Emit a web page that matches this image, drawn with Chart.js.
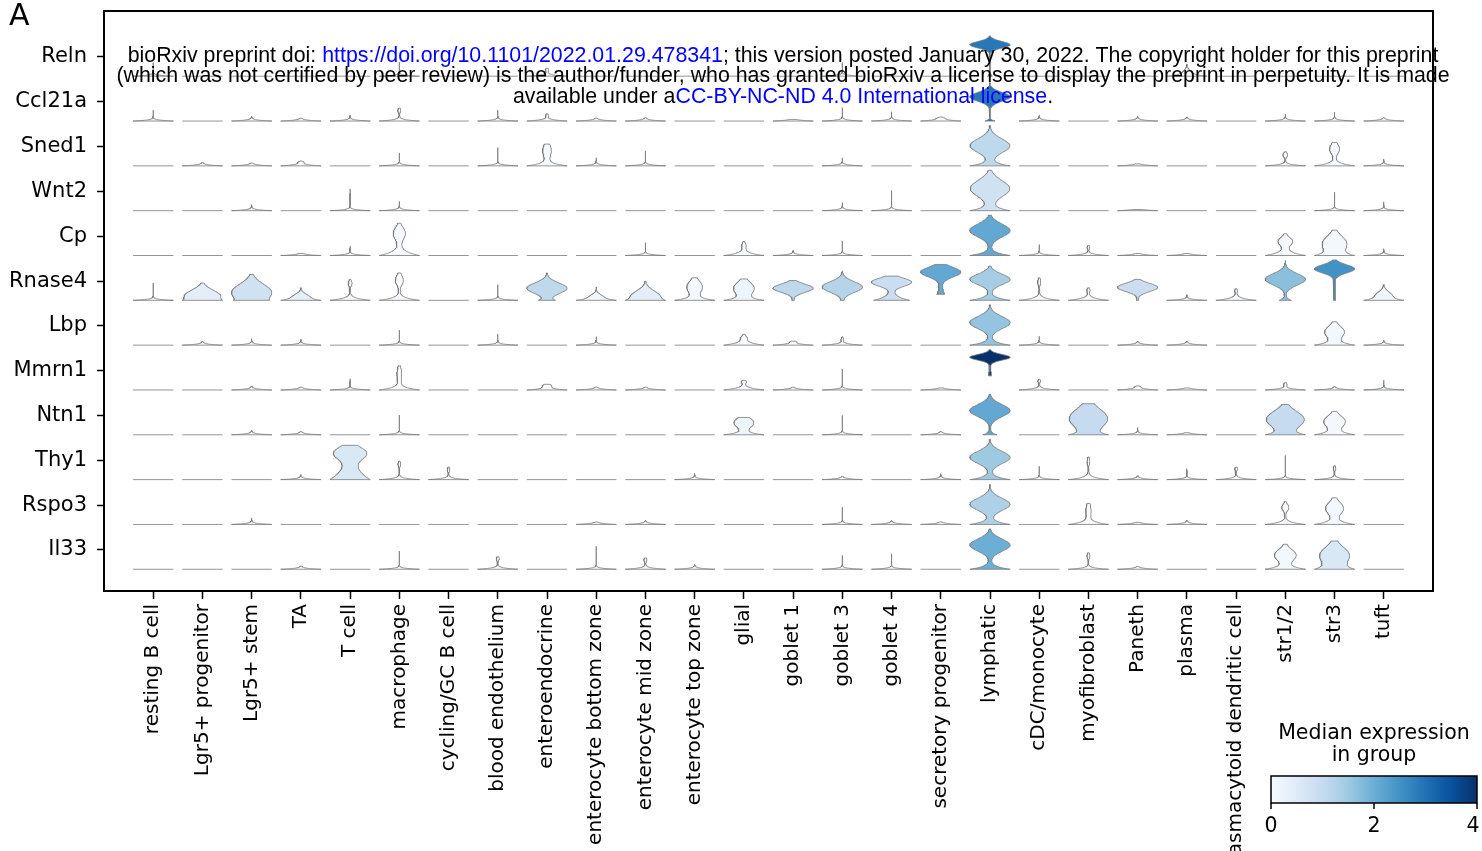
<!DOCTYPE html>
<html>
<head>
<meta charset="utf-8">
<script src="https://cdn.jsdelivr.net/npm/chart.js@4.4.0/dist/chart.umd.min.js"></script>
<style>
  html, body { margin: 0; padding: 0; background: #fff; overflow: hidden; }
  #wrap { width: 1482px; height: 851px; overflow: hidden; }
</style>
</head>
<body>
<div id="wrap"><canvas id="chart_elem" width="1482" height="880"></canvas></div>
<script>

const genes = ['Reln', 'Ccl21a', 'Sned1', 'Wnt2', 'Cp', 'Rnase4', 'Lbp', 'Mmrn1', 'Ntn1', 'Thy1', 'Rspo3', 'Il33'];

const cellTypes = ['resting B cell', 'Lgr5+ progenitor', 'Lgr5+ stem', 'TA', 'T cell', 'macrophage',
  'cycling/GC B cell', 'blood endothelium', 'enteroendocrine', 'enterocyte bottom zone',
  'enterocyte mid zone', 'enterocyte top zone', 'glial', 'goblet 1', 'goblet 3', 'goblet 4',
  'secretory progenitor', 'lymphatic', 'cDC/monocyte', 'myofibroblast', 'Paneth', 'plasma',
  'plasmacytoid dendritic cell', 'str1/2', 'str3', 'tuft'];

// one entry per cell type: 0 = no expression, a number = thin spike (max, scaled to row),
// or [max, median, bodyWidth, bodyCenter, bodySpread, zeroWidth, zeroSpread, min]
const Reln = [0.34, 0, 0, 0, 0, 0.35, 0, 0, [0.2, 0, 0.08, 0.16, 0.03], 0, 0, 0, 0, 0, 0.34, 0, 0,
  [1.0, 2.9, 1, 0.78, 0.08, 0.12, 0.05], 0, 0, 0, [0.3, 0, 0.1, 0.12, 0.06, 1, 0.05], 0, 0, 0, 0];
const Ccl21a = [0.27, 0, 0.12, 0.07, 0.15, [0.32, 0, 0.08, 0.26, 0.04], 0, 0.27, [0.18, 0, 0.06, 0.14, 0.03],
  0.07, 0.08, 0, 0, 0.04, 0.33, 0.23, [0.1, 0, 0.12, 0.07, 0.02], [0.95, 2.9, 1, 0.6, 0.11, 0.25, 0.03],
  0.15, 0, 0.12, 0.1, 0, 0.17, 0.22, 0.08];
const Sned1 = [0, 0.08, 0.07, [0.12, 0, 0.1, 0.09, 0.02], 0, 0.32, 0, 0.45, [0.54, 0.05, 0.22, 0.38, 0.15, 1, 0.06],
  0.2, 0.37, 0, 0, 0, 0.2, 0, 0, [1.0, 1.1, 1, 0.5, 0.17, 1, 0.07], 0, 0, 0.05, 0, 0,
  [0.35, 0, 0.12, 0.27, 0.05], [0.58, 0.05, 0.25, 0.42, 0.12, 1, 0.06], 0.17];
const Wnt2 = [0, 0, 0.15, 0, 0.54, 0.23, 0, 0, 0, 0, 0, 0, 0, 0, 0.2, 0.5, 0,
  [1.0, 0.8, 1, 0.55, 0.2, 1, 0.08], 0, 0, 0.03, 0, 0, 0, 0.46, 0.22];
const Cp = [0, 0, 0, 0.05, 0.23, [0.8, 0.05, 0.3, 0.55, 0.15, 1, 0.1], 0, 0, 0, 0, 0.32, 0,
  [0.35, 0, 0.1, 0.25, 0.06, 1, 0.06], 0.12, 0.36, 0, 0, [1.0, 2.1, 1, 0.62, 0.16, 1, 0.07], 0.27,
  [0.25, 0, 0.07, 0.2, 0.03], 0.05, 0.05, 0, [0.54, 0.05, 0.35, 0.35, 0.1, 1, 0.08],
  [0.63, 0.1, 0.7, 0.3, 0.18, 1, 0.08], 0.17];
const Rnase4 = [0.43, [0.43, 0.4, 0.8, 0.12, 0.14, 0.4, 0.06], [0.64, 0.8, 1, 0.2, 0.2, 0.3, 0.06],
  [0.31, 0.35, 0.5, 0.08, 0.08, 1, 0.04], [0.52, 0, 0.1, 0.42, 0.06, 1, 0.05], [0.68, 0, 0.2, 0.5, 0.12, 1, 0.06],
  0, 0.39, [0.68, 1.1, 1, 0.3, 0.13, 0.35, 0.05], [0.33, 0.1, 0.35, 0.08, 0.07, 1, 0.04],
  [0.48, 0.4, 0.75, 0.1, 0.14, 0.5, 0.05], [0.56, 0.1, 0.4, 0.33, 0.15, 1, 0.06],
  [0.53, 0.2, 0.55, 0.3, 0.15, 1, 0.06], [0.49, 1.1, 1, 0.3, 0.1, 0.05, 0.04],
  [0.73, 1.2, 1, 0.33, 0.13, 0.05, 0.04], [0.6, 0.9, 1, 0.45, 0.1, 0.9, 0.1],
  [0.89, 2.1, 1, 0.7, 0.12, 0.2, 0.2, 0.15], [0.85, 1.4, 1, 0.52, 0.13, 1, 0.07],
  [0.56, 0, 0.08, 0.45, 0.07, 1, 0.05], [0.31, 0, 0.08, 0.25, 0.04, 1, 0.05],
  [0.52, 0.9, 1, 0.32, 0.1, 0.05, 0.04], 0.14, [0.29, 0, 0.07, 0.24, 0.03, 1, 0.05],
  [0.99, 1.7, 1, 0.52, 0.14, 0.3, 0.05], [1.0, 2.5, 1, 0.78, 0.1, 0.06, 0.5],
  [0.39, 0.15, 0.45, 0.12, 0.1, 1, 0.05]];
const Lbp = [0, 0.1, 0.16, 0.14, 0, 0.37, 0, 0.27, 0, 0.21, 0, 0, [0.27, 0, 0.12, 0.18, 0.05, 1, 0.06],
  [0.1, 0, 0.1, 0.08, 0.02], [0.21, 0, 0.06, 0.15, 0.03], 0, 0, [1.0, 1.6, 1, 0.56, 0.15, 1, 0.07],
  0.22, 0, 0.1, 0.1, 0, 0, [0.58, 0.1, 0.5, 0.33, 0.14, 1, 0.07], 0.12];
const Mmrn1 = [0, 0, 0.1, 0.07, 0.28, [0.6, 0, 0.12, 0.4, 0.15, 1, 0.06], 0, 0, [0.14, 0, 0.2, 0.1, 0.04, 1, 0.03],
  0.07, 0.07, 0, [0.24, 0, 0.12, 0.2, 0.03, 1, 0.05], 0.07, 0.52, 0, 0.05,
  [1.0, 4.0, 1, 0.81, 0.07, 0.08, 0.2, 0.35], [0.27, 0, 0.07, 0.22, 0.03], 0, [0.1, 0, 0.08, 0.08, 0.02],
  0.05, 0, [0.18, 0, 0.08, 0.14, 0.03], 0.08, 0.24];
const Ntn1 = [0, 0, 0.12, 0.08, 0, 0.49, 0, 0, 0, 0, 0, 0, [0.43, 0.2, 0.5, 0.3, 0.12, 1, 0.05], 0, 0.48, 0, 0.08,
  [1.0, 2.1, 1, 0.6, 0.15, 0.35, 0.05], 0, [0.77, 1.0, 1, 0.4, 0.24, 0.8, 0.06], 0.18, 0.05, 0,
  [0.75, 1.0, 1, 0.38, 0.2, 0.9, 0.07], [0.58, 0.1, 0.55, 0.33, 0.14, 1, 0.07], 0];
const Thy1 = [0, 0, 0, 0.12, [0.85, 0.6, 0.72, 0.66, 0.15, 1, 0.3], [0.46, 0, 0.07, 0.38, 0.05],
  [0.31, 0, 0.07, 0.25, 0.04], 0, 0, 0, 0, 0.16, 0, 0, 0.08, 0, 0.15, [1.0, 1.5, 1, 0.55, 0.15, 1, 0.07],
  0.33, [0.56, 0, 0.07, 0.45, 0.07, 1, 0.05], 0.1, 0.27, [0.31, 0, 0.07, 0.26, 0.04], 0.6,
  [0.35, 0, 0.07, 0.28, 0.04], 0];
const Rspo3 = [0, 0, 0.16, 0, 0, 0, 0, 0, 0, 0.06, 0.1, 0, 0, 0, 0.43, 0.1, 0.06,
  [0.99, 1.3, 1, 0.5, 0.15, 1, 0.07], 0, [0.52, 0, 0.13, 0.35, 0.15, 1, 0.06], 0.05, 0.1, 0,
  [0.57, 0, 0.18, 0.42, 0.08, 1, 0.05], [0.66, 0.1, 0.45, 0.4, 0.15, 1, 0.07], 0];
const Il33 = [0, 0, 0, 0.08, 0, 0.45, 0, [0.31, 0, 0.08, 0.26, 0.04], 0, 0.57, [0.28, 0, 0.08, 0.23, 0.04],
  0.12, 0, 0, 0.34, 0.38, 0, [1.0, 2.0, 1, 0.6, 0.15, 1, 0.07], 0, [0.41, 0, 0.08, 0.33, 0.05], 0.07, 0, 0,
  [0.62, 0.1, 0.55, 0.35, 0.14, 1, 0.07], [0.7, 0.6, 0.85, 0.35, 0.2, 1, 0.1], 0];

const rows = [Reln, Ccl21a, Sned1, Wnt2, Cp, Rnase4, Lbp, Mmrn1, Ntn1, Thy1, Rspo3, Il33];

const colorbarTicks = [0, 2, 4];
const colorbarMax = 4;

// matplotlib "Blues"
const blues = ['#f7fbff', '#deebf7', '#c6dbef', '#9ecae1', '#6baed6', '#4292c6', '#2171b5', '#08519c', '#08306b'];

const hexToRgb = (h) => [1, 3, 5].map(i => parseInt(h.slice(i, i + 2), 16));

const bluesAt = (t) => {
  t = Math.max(0, Math.min(1, t));
  const pos = t * (blues.length - 1);
  const i = Math.min(Math.floor(pos), blues.length - 2);
  const f = pos - i;
  const a = hexToRgb(blues[i]), b = hexToRgb(blues[i + 1]);
  const c = a.map((v, k) => Math.round(v + (b[k] - v) * f));
  return 'rgb(' + c.join(',') + ')';
};

const HALF = 0.41;     // max half width of a violin, in column units
const ROW_H = 0.9;     // full violin height, in row units
const BASE_OFF = 0.43; // baseline offset below the row tick
const STEPS = 90;

const expand = (e) => {
  if (!Array.isArray(e)) {
    return { h: e, med: 0, b1: 0.006, mu: e * 0.6, sd: e * 0.2, b0: 1, s0: 0.022, lo: 0 };
  }
  const [h, med = 0, b1 = 0.05, mu = h * 0.8, sd = h * 0.1, b0 = 1, s0 = 0.03, lo = 0] = e;
  return { h, med, b1, mu, sd, b0, s0, lo };
};

const violinPoints = (c, col, row) => {
  const base = row + BASE_OFF;
  if (c.h <= 0) {
    return [{ x: col - HALF, y: base }, { x: col + HALF, y: base }];
  }
  const vs = [], ws = [];
  for (let k = 0; k <= STEPS; k++) {
    const v = c.lo + (c.h - c.lo) * k / STEPS;
    const w = c.b0 * Math.exp(-(v - c.lo) / c.s0) + c.b1 * Math.exp(-0.5 * ((v - c.mu) / c.sd) ** 2) + 0.002;
    vs.push(v);
    ws.push(w);
  }
  const maxW = Math.max(...ws);
  const pts = [];
  for (let k = 0; k <= STEPS; k++) {
    pts.push({ x: col + HALF * ws[k] / maxW, y: base - vs[k] * ROW_H });
  }
  for (let k = STEPS; k >= 0; k--) {
    pts.push({ x: col - HALF * ws[k] / maxW, y: base - vs[k] * ROW_H });
  }
  pts.push(pts[0]);
  return pts;
};

const datasets = [];
rows.forEach((geneRow, r) => {
  geneRow.forEach((entry, col) => {
    const c = expand(entry);
    datasets.push({
      data: violinPoints(c, col, r),
      showLine: true,
      fill: c.h > 0 ? 'shape' : false,
      backgroundColor: bluesAt(c.med / colorbarMax),
      borderColor: '#7a7a7a',
      borderWidth: 0.8,
      pointRadius: 0,
      tension: 0
    });
  });
});

const FONT = '"DejaVu Sans", sans-serif';

const framePlugin = {
  id: 'frame',
  afterDatasetsDraw(chart) {
    const { ctx, chartArea: a } = chart;
    ctx.save();
    ctx.strokeStyle = '#000';
    ctx.lineWidth = 2;
    ctx.strokeRect(a.left, a.top, a.right - a.left, a.bottom - a.top);
    ctx.restore();
  }
};

const extrasPlugin = {
  id: 'extras',
  afterDraw(chart) {
    const ctx = chart.ctx;
    ctx.save();

    // panel letter
    ctx.fillStyle = '#000';
    ctx.font = '30px ' + FONT;
    ctx.textAlign = 'left';
    ctx.textBaseline = 'alphabetic';
    ctx.fillText('A', 9, 25);

    // colorbar
    const cx0 = 1271, cx1 = 1477, cy0 = 776, cy1 = 803;
    const grad = ctx.createLinearGradient(cx0, 0, cx1, 0);
    blues.forEach((c, i) => grad.addColorStop(i / (blues.length - 1), c));
    ctx.fillStyle = grad;
    ctx.fillRect(cx0, cy0, cx1 - cx0, cy1 - cy0);
    ctx.strokeStyle = '#000';
    ctx.lineWidth = 1.5;
    ctx.strokeRect(cx0, cy0, cx1 - cx0, cy1 - cy0);

    ctx.fillStyle = '#000';
    ctx.font = '20.5px ' + FONT;
    ctx.textAlign = 'center';
    ctx.fillText('Median expression', 1374, 739);
    ctx.fillText('in group', 1374, 761);

    ctx.textBaseline = 'middle';
    colorbarTicks.forEach(t => {
      const x = cx0 + (cx1 - cx0) * t / colorbarMax;
      ctx.beginPath();
      ctx.moveTo(x, cy1);
      ctx.lineTo(x, cy1 + 6);
      ctx.lineWidth = 1.5;
      ctx.stroke();
      ctx.fillText(String(t), Math.min(x, 1473), 827);
    });

    // preprint watermark
    const lines = [
      [['bioRxiv preprint doi: ', '#000'], ['https://doi.org/10.1101/2022.01.29.478341', '#0000ff'],
       ['; this version posted January 30, 2022. The copyright holder for this preprint', '#000']],
      [['(which was not certified by peer review) is the author/funder, who has granted bioRxiv a license to display the preprint in perpetuity. It is made', '#000']],
      [['available under a', '#000'], ['CC-BY-NC-ND 4.0 International license', '#0000ff'], ['.', '#000']]
    ];
    ctx.font = '20px "Liberation Sans", Arial, sans-serif';
    const w2 = ctx.measureText(lines[1][0][0]).width;
    const size = 20 * 1334 / w2;
    ctx.font = size + 'px "Liberation Sans", Arial, sans-serif';
    ctx.textAlign = 'left';
    ctx.textBaseline = 'alphabetic';
    const baselines = [61.5, 82, 102.5];
    lines.forEach((segs, i) => {
      const total = segs.reduce((s, g) => s + ctx.measureText(g[0]).width, 0);
      let x = 783 - total / 2;
      segs.forEach(([txt, col]) => {
        ctx.fillStyle = col;
        ctx.fillText(txt, x, baselines[i]);
        x += ctx.measureText(txt).width;
      });
    });

    ctx.restore();
  }
};

const canvas = document.getElementById('chart_elem');
const ctx = canvas.getContext('2d');

const config = {
  type: 'scatter',
  data: { datasets },
  options: {
    responsive: false,
    animation: false,
    events: [],
    layout: { padding: { left: 0, right: 49, top: 11, bottom: 0 } },
    plugins: {
      legend: { display: false },
      tooltip: { enabled: false }
    },
    scales: {
      x: {
        type: 'linear',
        min: -1,
        max: 26,
        afterBuildTicks: (scale) => { scale.ticks = cellTypes.map((_, i) => ({ value: i })); },
        afterFit: (scale) => {
          scale.height = 289;
          scale.paddingLeft = 0; scale.paddingRight = 0;
        },
        ticks: {
          autoSkip: false,
          maxRotation: 90,
          minRotation: 90,
          padding: 5,
          color: '#000',
          font: { family: FONT, size: 20 },
          callback: (v) => cellTypes[v]
        },
        grid: { drawOnChartArea: false, tickLength: 8, tickColor: '#000', tickWidth: 1.5 },
        border: { display: false }
      },
      y: {
        type: 'linear',
        reverse: true,
        min: -1.025,
        max: 11.915,
        afterBuildTicks: (scale) => { scale.ticks = genes.map((_, i) => ({ value: i })); },
        afterFit: (scale) => {
          scale.width = 104;
          scale.paddingTop = 0; scale.paddingBottom = 0;
        },
        ticks: {
          autoSkip: false,
          padding: 10,
          color: '#000',
          font: { family: FONT, size: 21 },
          callback: (v) => genes[v]
        },
        grid: { drawOnChartArea: false, tickLength: 7, tickColor: '#000', tickWidth: 1.5 },
        border: { display: false }
      }
    }
  },
  plugins: [framePlugin, extrasPlugin]
};

const chart = new Chart(ctx, config);
</script>
</body>
</html>
